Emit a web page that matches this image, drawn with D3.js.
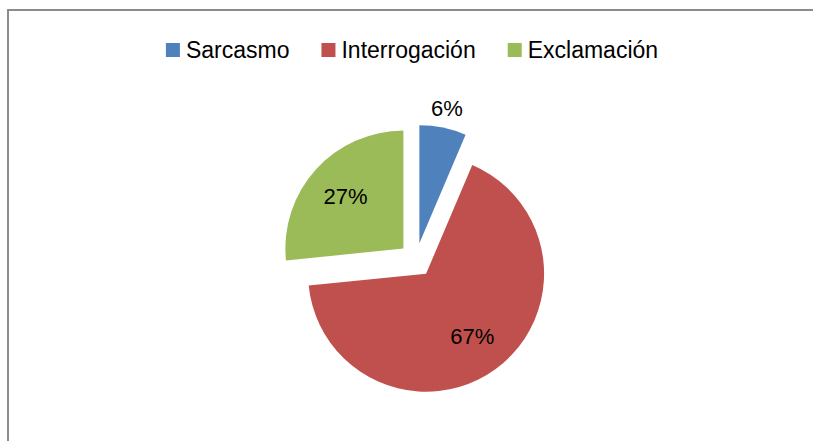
<!DOCTYPE html>
<html><head><meta charset="utf-8">
<script src="https://cdn.jsdelivr.net/npm/d3@7"></script>
<style>html,body{margin:0;padding:0;background:#fff;overflow:hidden}</style>
</head><body>
<svg id="c" width="813" height="441"></svg>
<script>
const categories = ["Sarcasmo", "Interrogación", "Exclamación"];
const values = [6.4, 67.0, 26.6];
const labels = ["6%", "67%", "27%"];
const colors = ["#4F81BD", "#C0504D", "#9BBB59"];

const svg = d3.select("#c");
const font = "'Liberation Sans', Arial, sans-serif";

// chart area border
svg.append("rect").attr("x", 8).attr("y", 10).attr("width", 820).attr("height", 450)
  .attr("fill", "#fff").attr("stroke", "#8c8c8c").attr("stroke-width", 2);

const cx = 416, cy = 260, R = 118, explode = 17;
const pie = d3.pie().sort(null).value(d => d)(values);
const arc = d3.arc().innerRadius(0).outerRadius(R);

const g = svg.append("g").attr("transform", `translate(${cx},${cy})`);
const off = d => {
  const a = (d.startAngle + d.endAngle) / 2;
  return [Math.sin(a) * explode, -Math.cos(a) * explode];
};
g.selectAll("path").data(pie).join("path")
  .attr("d", arc)
  .attr("fill", (d, i) => colors[i])
  .attr("transform", d => `translate(${off(d)})`);

const labelR = [138, 78, 78];
g.selectAll("text.lbl").data(pie).join("text")
  .attr("class", "lbl")
  .attr("transform", (d, i) => {
    const a = (d.startAngle + d.endAngle) / 2;
    const o = off(d);
    return `translate(${o[0] + Math.sin(a) * labelR[i]},${o[1] - Math.cos(a) * labelR[i]})`;
  })
  .attr("text-anchor", "middle").attr("dy", "0.36em")
  .attr("font-family", font).attr("font-size", 22).attr("fill", "#000")
  .text((d, i) => labels[i]);

// legend
const leg = svg.append("g");
let x = 0;
categories.forEach((c, i) => {
  const it = leg.append("g").attr("transform", `translate(${x},0)`);
  it.append("rect").attr("x", 0).attr("y", -15).attr("width", 14).attr("height", 14).attr("fill", colors[i]);
  const t = it.append("text").attr("x", 20).attr("y", 0)
    .attr("font-family", font).attr("font-size", 23).attr("fill", "#000").text(c);
  const w = t.node().getComputedTextLength();
  x += 20 + w + 32;
});
const total = x - 32;
leg.attr("transform", `translate(${412 - total / 2},58)`);
</script>
</body></html>
